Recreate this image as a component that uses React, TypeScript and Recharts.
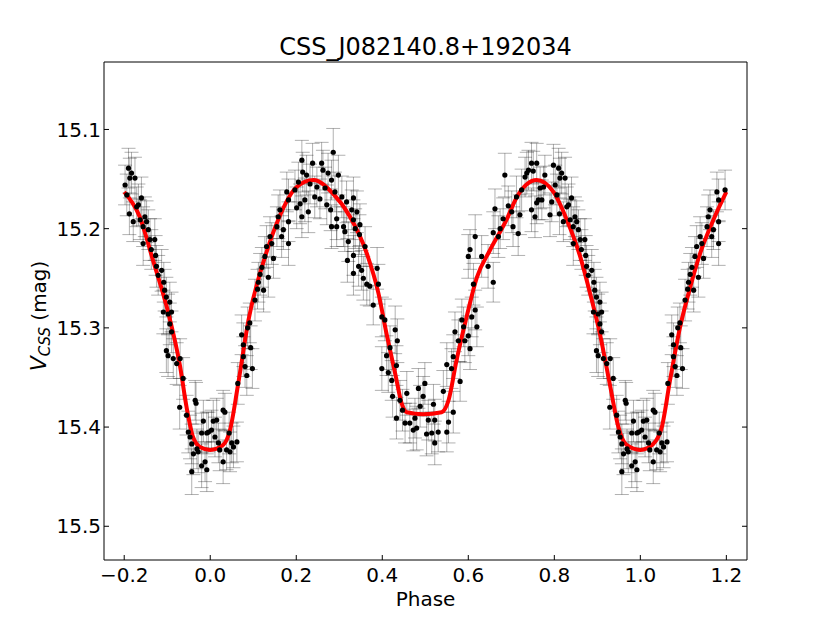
import React from "react";
import { ComposedChart, ErrorBar, Line, Scatter, XAxis, YAxis } from "recharts";

type Obs = [number, number, number];

const TITLE = "CSS_J082140.8+192034";
const X_TICKS = [-0.2, 0, 0.2, 0.4, 0.6, 0.8, 1.0, 1.2];
const Y_TICKS = [15.1, 15.2, 15.3, 15.4, 15.5];
const X_DOMAIN = [-0.247, 1.248];
const Y_DOMAIN = [15.032, 15.534];

// one folded cycle: [phase, V mag, error]
const OBS: Obs[] = [
  [0.003, 15.403, 0.02], [0.007, 15.394, 0.021], [0.011, 15.41, 0.02], [0.015, 15.393, 0.022],
  [0.019, 15.416, 0.02], [0.022, 15.423, 0.021], [0.03, 15.383, 0.02], [0.03, 15.435, 0.022],
  [0.034, 15.385, 0.019], [0.038, 15.423, 0.02], [0.044, 15.406, 0.021], [0.046, 15.425, 0.02],
  [0.05, 15.416, 0.02], [0.054, 15.42, 0.021],
  [0.062, 15.415, 0.02], [0.064, 15.356, 0.021], [0.073, 15.307, 0.02], [0.077, 15.317, 0.022],
  [0.077, 15.329, 0.02], [0.081, 15.339, 0.021], [0.085, 15.348, 0.02], [0.087, 15.3, 0.021],
  [0.092, 15.295, 0.02], [0.094, 15.32, 0.022], [0.098, 15.341, 0.02], [0.104, 15.272, 0.021],
  [0.11, 15.261, 0.02], [0.112, 15.254, 0.02], [0.116, 15.246, 0.021], [0.12, 15.239, 0.02],
  [0.124, 15.262, 0.022], [0.127, 15.228, 0.02], [0.131, 15.218, 0.021], [0.135, 15.249, 0.02],
  [0.139, 15.208, 0.02], [0.143, 15.215, 0.021], [0.147, 15.23, 0.02], [0.155, 15.198, 0.02],
  [0.158, 15.188, 0.022], [0.162, 15.181, 0.02], [0.166, 15.208, 0.021], [0.17, 15.201, 0.02],
  [0.178, 15.163, 0.02], [0.182, 15.171, 0.021], [0.182, 15.193, 0.02], [0.182, 15.215, 0.022],
  [0.197, 15.161, 0.02], [0.201, 15.179, 0.021], [0.205, 15.153, 0.02], [0.209, 15.175, 0.02],
  [0.213, 15.188, 0.021], [0.213, 15.131, 0.02], [0.215, 15.143, 0.02], [0.22, 15.171, 0.022],
  [0.224, 15.146, 0.02], [0.228, 15.183, 0.021], [0.232, 15.155, 0.02], [0.238, 15.134, 0.02],
  [0.243, 15.168, 0.021], [0.248, 15.158, 0.02], [0.255, 15.17, 0.02], [0.259, 15.134, 0.021],
  [0.262, 15.141, 0.02], [0.267, 15.159, 0.021], [0.271, 15.176, 0.02], [0.274, 15.144, 0.02],
  [0.28, 15.181, 0.021], [0.282, 15.151, 0.02], [0.282, 15.198, 0.022], [0.286, 15.123, 0.024],
  [0.29, 15.163, 0.02], [0.294, 15.19, 0.021], [0.294, 15.198, 0.02], [0.298, 15.146, 0.02],
  [0.306, 15.168, 0.021], [0.31, 15.198, 0.02], [0.313, 15.203, 0.02], [0.317, 15.173, 0.021],
  [0.319, 15.232, 0.022], [0.321, 15.213, 0.02], [0.329, 15.181, 0.02], [0.333, 15.169, 0.021],
  [0.333, 15.191, 0.02], [0.333, 15.227, 0.02], [0.333, 15.245, 0.022], [0.337, 15.2, 0.02],
  [0.341, 15.183, 0.021], [0.345, 15.238, 0.02], [0.347, 15.206, 0.02], [0.348, 15.196, 0.021],
  [0.352, 15.242, 0.02], [0.356, 15.25, 0.022], [0.36, 15.218, 0.02], [0.364, 15.256, 0.021],
  [0.371, 15.258, 0.02], [0.379, 15.277, 0.02], [0.388, 15.24, 0.021], [0.391, 15.256, 0.02],
  [0.399, 15.289, 0.02], [0.399, 15.341, 0.022], [0.406, 15.292, 0.021], [0.41, 15.328, 0.02],
  [0.414, 15.345, 0.02], [0.418, 15.32, 0.022], [0.422, 15.353, 0.02], [0.424, 15.369, 0.021],
  [0.43, 15.302, 0.024], [0.433, 15.338, 0.02], [0.433, 15.391, 0.021], [0.435, 15.313, 0.022],
  [0.441, 15.373, 0.02], [0.447, 15.383, 0.021], [0.453, 15.396, 0.02], [0.457, 15.366, 0.022],
  [0.464, 15.396, 0.02], [0.472, 15.403, 0.021], [0.476, 15.391, 0.02], [0.48, 15.401, 0.022],
  [0.484, 15.361, 0.02], [0.488, 15.379, 0.021], [0.495, 15.369, 0.02], [0.499, 15.356, 0.021],
  [0.503, 15.407, 0.022], [0.507, 15.393, 0.02],
  [0.515, 15.406, 0.021], [0.519, 15.377, 0.02], [0.522, 15.393, 0.021], [0.522, 15.416, 0.022],
  [0.53, 15.405, 0.02], [0.542, 15.364, 0.021], [0.55, 15.337, 0.022], [0.55, 15.405, 0.02],
  [0.554, 15.395, 0.021], [0.561, 15.341, 0.02], [0.565, 15.385, 0.021], [0.565, 15.329, 0.022],
  [0.569, 15.304, 0.02], [0.577, 15.313, 0.021], [0.581, 15.354, 0.02], [0.585, 15.292, 0.021],
  [0.589, 15.299, 0.02], [0.592, 15.313, 0.022], [0.6, 15.308, 0.02], [0.6, 15.228, 0.022],
  [0.604, 15.321, 0.021], [0.604, 15.221, 0.02], [0.608, 15.289, 0.02], [0.612, 15.256, 0.021],
  [0.616, 15.282, 0.02], [0.616, 15.208, 0.022], [0.62, 15.299, 0.02], [0.631, 15.228, 0.021],
  [0.646, 15.238, 0.022], [0.658, 15.254, 0.02], [0.658, 15.204, 0.021], [0.662, 15.18, 0.02],
  [0.67, 15.208, 0.021], [0.674, 15.2, 0.02], [0.681, 15.19, 0.021], [0.685, 15.146, 0.022],
  [0.693, 15.177, 0.02], [0.701, 15.183, 0.021], [0.704, 15.198, 0.02], [0.712, 15.168, 0.021],
  [0.716, 15.205, 0.022],
  [0.72, 15.186, 0.02], [0.724, 15.161, 0.021], [0.732, 15.148, 0.02], [0.736, 15.144, 0.021],
  [0.74, 15.141, 0.02], [0.747, 15.134, 0.021], [0.747, 15.181, 0.022], [0.751, 15.142, 0.02],
  [0.755, 15.188, 0.021], [0.759, 15.134, 0.02], [0.759, 15.174, 0.021], [0.763, 15.171, 0.02],
  [0.767, 15.159, 0.021], [0.771, 15.171, 0.02], [0.775, 15.158, 0.021], [0.778, 15.146, 0.02],
  [0.79, 15.186, 0.022], [0.794, 15.173, 0.02], [0.798, 15.136, 0.021], [0.802, 15.156, 0.02],
  [0.806, 15.166, 0.021], [0.81, 15.139, 0.02], [0.812, 15.185, 0.021], [0.813, 15.149, 0.02],
  [0.817, 15.144, 0.021], [0.821, 15.193, 0.02], [0.825, 15.149, 0.021], [0.829, 15.178, 0.02],
  [0.833, 15.176, 0.021], [0.837, 15.191, 0.02], [0.84, 15.169, 0.021], [0.844, 15.198, 0.02],
  [0.844, 15.215, 0.022], [0.848, 15.188, 0.02], [0.852, 15.193, 0.021], [0.856, 15.201, 0.02],
  [0.86, 15.211, 0.021], [0.863, 15.221, 0.02], [0.871, 15.211, 0.021], [0.873, 15.227, 0.02],
  [0.875, 15.238, 0.021], [0.879, 15.247, 0.02], [0.887, 15.242, 0.021], [0.891, 15.284, 0.022],
  [0.892, 15.254, 0.02], [0.894, 15.262, 0.021], [0.898, 15.269, 0.02], [0.898, 15.323, 0.022],
  [0.902, 15.286, 0.02], [0.902, 15.328, 0.021], [0.906, 15.274, 0.02], [0.906, 15.296, 0.021],
  [0.91, 15.284, 0.02], [0.91, 15.304, 0.021], [0.914, 15.331, 0.02], [0.922, 15.336, 0.021],
  [0.929, 15.38, 0.022], [0.93, 15.331, 0.02], [0.937, 15.351, 0.021], [0.945, 15.388, 0.02],
  [0.949, 15.405, 0.021], [0.953, 15.41, 0.022], [0.957, 15.417, 0.02], [0.957, 15.445, 0.023],
  [0.961, 15.427, 0.021], [0.965, 15.373, 0.02], [0.967, 15.376, 0.021], [0.969, 15.422, 0.02],
  [0.972, 15.425, 0.021], [0.98, 15.439, 0.022], [0.98, 15.406, 0.02], [0.984, 15.394, 0.021],
  [0.988, 15.435, 0.02], [0.992, 15.406, 0.021], [0.992, 15.443, 0.022], [0.996, 15.405, 0.02],
];

// fitted light curve: [phase, V mag]
const FIT: [number, number][] = [
  [-0.2, 15.163], [-0.164, 15.188], [-0.133, 15.232], [-0.101, 15.279], [-0.07, 15.339],
  [-0.055, 15.38], [-0.04, 15.41], [-0.024, 15.42], [0.0, 15.423], [0.03, 15.418],
  [0.046, 15.403], [0.064, 15.359], [0.089, 15.292], [0.13, 15.225], [0.158, 15.191],
  [0.201, 15.158], [0.24, 15.151], [0.286, 15.165], [0.325, 15.188], [0.364, 15.225],
  [0.391, 15.265], [0.41, 15.306], [0.43, 15.346], [0.445, 15.376], [0.457, 15.385],
  [0.495, 15.387], [0.538, 15.385], [0.554, 15.373], [0.573, 15.332], [0.596, 15.289],
  [0.62, 15.249], [0.65, 15.222], [0.689, 15.191], [0.713, 15.168], [0.759, 15.151],
  [0.798, 15.163], [0.829, 15.191], [0.86, 15.228], [0.883, 15.265], [0.906, 15.306],
  [0.93, 15.359], [0.949, 15.4], [0.968, 15.418], [1.0, 15.423], [1.03, 15.417],
  [1.05, 15.4], [1.069, 15.353], [1.092, 15.3], [1.116, 15.259], [1.139, 15.225],
  [1.17, 15.191], [1.2, 15.163],
];

// phase-folded plot repeats 0.8-1.0 on the left and 0.0-0.2 on the right
const points = [
  ...OBS.filter((p) => p[0] >= 0.8).map(([x, y, err]) => ({ x: x - 1, y, err })),
  ...OBS.map(([x, y, err]) => ({ x, y, err })),
  ...OBS.filter((p) => p[0] <= 0.2).map(([x, y, err]) => ({ x: x + 1, y, err })),
];
const fitData = FIT.map(([x, y]) => ({ x, y }));

const FONT = "DejaVu Sans";
const tickStyle = { fontSize: 20, fill: "#000", fontFamily: FONT };
const fmt = (v: number) => v.toFixed(1).replace("-", "\u2212");
const Dot = (props: any) => <circle cx={props.cx} cy={props.cy} r={2.6} fill="#000" />;
const NoLabel = () => <g />;

export default function App() {
  return (
    <div style={{ position: "absolute", left: 0, top: 0, width: 830, height: 623, background: "#fff" }}>
      <ComposedChart width={830} height={623} margin={{ top: 0, right: 0, bottom: 0, left: 0 }}>
        <XAxis
          dataKey="x"
          type="number"
          domain={X_DOMAIN}
          ticks={X_TICKS}
          allowDataOverflow
          interval={0}
          height={63}
          tickSize={-5}
          tickMargin={13}
          tickFormatter={fmt}
          tick={tickStyle}
          axisLine={{ stroke: "#000" }}
          tickLine={{ stroke: "#000" }}
        />
        <XAxis
          xAxisId="top"
          orientation="top"
          type="number"
          domain={X_DOMAIN}
          ticks={X_TICKS}
          allowDataOverflow
          interval={0}
          height={62}
          tickSize={-5}
          tick={NoLabel}
          axisLine={{ stroke: "#000" }}
          tickLine={{ stroke: "#000" }}
        />
        <YAxis
          type="number"
          domain={Y_DOMAIN}
          ticks={Y_TICKS}
          reversed
          allowDataOverflow
          interval={0}
          width={104}
          tickSize={-5}
          tickMargin={8}
          tickFormatter={fmt}
          tick={tickStyle}
          axisLine={{ stroke: "#000" }}
          tickLine={{ stroke: "#000" }}
        />
        <YAxis
          yAxisId="right"
          orientation="right"
          type="number"
          domain={Y_DOMAIN}
          ticks={Y_TICKS}
          reversed
          allowDataOverflow
          interval={0}
          width={83}
          tickSize={-5}
          tick={NoLabel}
          axisLine={{ stroke: "#000" }}
          tickLine={{ stroke: "#000" }}
        />
        <Scatter data={points} dataKey="y" shape={Dot} isAnimationActive={false}>
          <ErrorBar dataKey="err" direction="y" width={7} stroke="#000" strokeOpacity={0.35} strokeWidth={0.9} isAnimationActive={false} />
        </Scatter>
        <Line
          data={fitData}
          dataKey="y"
          type="monotone"
          stroke="#ff0000"
          strokeWidth={4}
          dot={false}
          activeDot={false}
          isAnimationActive={false}
        />
      </ComposedChart>
      <svg width={830} height={623} style={{ position: "absolute", left: 0, top: 0, pointerEvents: "none" }}>
        <text x={425.5} y={55} textAnchor="middle" fontFamily={FONT} fontSize={24} fill="#000">
          {TITLE}
        </text>
        <text x={425.5} y={606} textAnchor="middle" fontFamily={FONT} fontSize={20} fill="#000">
          Phase
        </text>
        <text transform="translate(46,316) rotate(-90)" textAnchor="middle" fontFamily={FONT} fontSize={20} fill="#000">
          <tspan fontStyle="italic" fontSize={22}>V</tspan>
          <tspan fontStyle="italic" fontSize={15} dy={4}>CSS</tspan>
          <tspan dy={-4}> (mag)</tspan>
        </text>
      </svg>
    </div>
  );
}
